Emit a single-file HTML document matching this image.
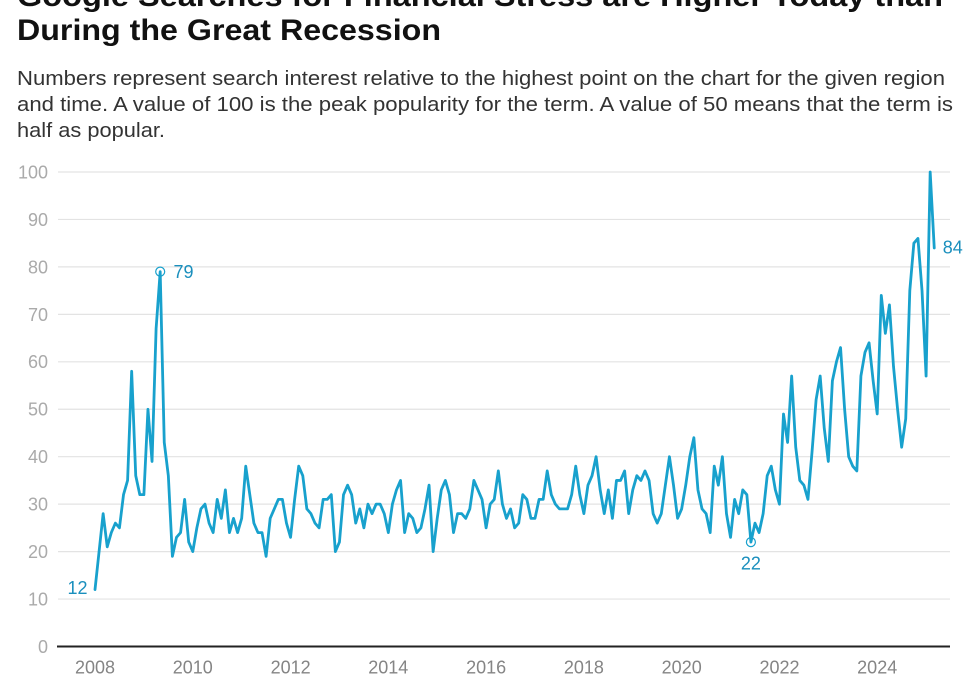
<!DOCTYPE html>
<html>
<head>
<meta charset="utf-8">
<style>
  html, body { margin: 0; padding: 0; background: #ffffff; }
  body { width: 980px; height: 699px; overflow: hidden; }
  svg { display: block; font-family: "Liberation Sans", Arial, sans-serif; }
</style>
</head>
<body>
<svg width="980" height="699" viewBox="0 0 980 699" xmlns="http://www.w3.org/2000/svg">
  <rect width="980" height="699" fill="#ffffff"/>

  <!-- Title -->
  <text x="17" y="6" font-size="30" font-weight="bold" fill="#111" textLength="926" lengthAdjust="spacingAndGlyphs">Google Searches for Financial Stress are Higher Today than</text>
  <text x="17" y="40" font-size="30" font-weight="bold" fill="#111" textLength="424" lengthAdjust="spacingAndGlyphs">During the Great Recession</text>

  <!-- Subtitle -->
  <text x="17" y="85" font-size="20" fill="#333" textLength="928" lengthAdjust="spacingAndGlyphs">Numbers represent search interest relative to the highest point on the chart for the given region</text>
  <text x="17" y="111" font-size="20" fill="#333" textLength="936" lengthAdjust="spacingAndGlyphs">and time. A value of 100 is the peak popularity for the term. A value of 50 means that the term is</text>
  <text x="17" y="137" font-size="20" fill="#333" textLength="148" lengthAdjust="spacingAndGlyphs">half as popular.</text>

  <!-- Gridlines -->
  <g stroke="#e3e3e3" stroke-width="1.2">
    <line x1="58" x2="950" y1="172" y2="172"/>
    <line x1="58" x2="950" y1="219.45" y2="219.45"/>
    <line x1="58" x2="950" y1="266.9" y2="266.9"/>
    <line x1="58" x2="950" y1="314.35" y2="314.35"/>
    <line x1="58" x2="950" y1="361.8" y2="361.8"/>
    <line x1="58" x2="950" y1="409.25" y2="409.25"/>
    <line x1="58" x2="950" y1="456.7" y2="456.7"/>
    <line x1="58" x2="950" y1="504.15" y2="504.15"/>
    <line x1="58" x2="950" y1="551.6" y2="551.6"/>
    <line x1="58" x2="950" y1="599.05" y2="599.05"/>
  </g>
  <line x1="57" x2="950" y1="646.5" y2="646.5" stroke="#222" stroke-width="2"/>

  <!-- Y labels -->
  <g font-size="18" fill="#aaaaaa" text-anchor="end">
    <text x="48" y="178.4">100</text>
    <text x="48" y="225.9">90</text>
    <text x="48" y="273.3">80</text>
    <text x="48" y="320.8">70</text>
    <text x="48" y="368.2">60</text>
    <text x="48" y="415.7">50</text>
    <text x="48" y="463.1">40</text>
    <text x="48" y="510.6">30</text>
    <text x="48" y="558">20</text>
    <text x="48" y="605.5">10</text>
    <text x="48" y="652.9">0</text>
  </g>

  <!-- X labels -->
  <g font-size="18" fill="#858585" text-anchor="middle">
    <text x="95" y="673.5">2008</text>
    <text x="192.8" y="673.5">2010</text>
    <text x="290.6" y="673.5">2012</text>
    <text x="388.3" y="673.5">2014</text>
    <text x="486.1" y="673.5">2016</text>
    <text x="583.9" y="673.5">2018</text>
    <text x="681.7" y="673.5">2020</text>
    <text x="779.5" y="673.5">2022</text>
    <text x="877.2" y="673.5">2024</text>
  </g>

  <!-- Series -->
  <g transform="matrix(4.074 0 0 -4.745 95 646.5)">
    <polyline fill="none" stroke="#18a1cd" stroke-width="2.8" stroke-linejoin="round" stroke-linecap="round" vector-effect="non-scaling-stroke"
      points="0,12 1,20 2,28 3,21 4,24 5,26 6,25 7,32 8,35 9,58 10,36 11,32 12,32 13,50 14,39 15,67 16,79 17,43 18,36 19,19 20,23 21,24 22,31 23,22 24,20 25,25 26,29 27,30 28,26 29,24 30,31 31,27 32,33 33,24 34,27 35,24 36,27 37,38 38,32 39,26 40,24 41,24 42,19 43,27 44,29 45,31 46,31 47,26 48,23 49,31 50,38 51,36 52,29 53,28 54,26 55,25 56,31 57,31 58,32 59,20 60,22 61,32 62,34 63,32 64,26 65,29 66,25 67,30 68,28 69,30 70,30 71,28 72,24 73,30 74,33 75,35 76,24 77,28 78,27 79,24 80,25 81,29 82,34 83,20 84,27 85,33 86,35 87,32 88,24 89,28 90,28 91,27 92,29 93,35 94,33 95,31 96,25 97,30 98,31 99,37 100,30 101,27 102,29 103,25 104,26 105,32 106,31 107,27 108,27 109,31 110,31 111,37 112,32 113,30 114,29 115,29 116,29 117,32 118,38 119,32 120,28 121,34 122,36 123,40 124,33 125,28 126,33 127,27 128,35 129,35 130,37 131,28 132,33 133,36 134,35 135,37 136,35 137,28 138,26 139,28 140,34 141,40 142,34 143,27 144,29 145,34 146,40 147,44 148,33 149,29 150,28 151,24 152,38 153,34 154,40 155,28 156,23 157,31 158,28 159,33 160,32 161,22 162,26 163,24 164,28 165,36 166,38 167,33 168,30 169,49 170,43 171,57 172,42 173,35 174,34 175,31 176,41 177,52 178,57 179,46 180,39 181,56 182,60 183,63 184,50 185,40 186,38 187,37 188,57 189,62 190,64 191,56 192,49 193,74 194,66 195,72 196,59 197,50 198,42 199,48 200,75 201,85 202,86 203,75 204,57 205,100 206,84"/>
  </g>

  <!-- Markers -->
  <circle cx="160.2" cy="271.6" r="4.5" fill="none" stroke="#18a1cd" stroke-width="1.2"/>
  <circle cx="750.9" cy="542.1" r="4.5" fill="none" stroke="#18a1cd" stroke-width="1.2"/>

  <!-- Annotations -->
  <g font-size="18" fill="#1a8fbd">
    <text x="173.5" y="278">79</text>
    <text x="87.5" y="594" text-anchor="end">12</text>
    <text x="750.9" y="569.5" text-anchor="middle">22</text>
    <text x="942.7" y="253.5">84</text>
  </g>
</svg>
</body>
</html>
